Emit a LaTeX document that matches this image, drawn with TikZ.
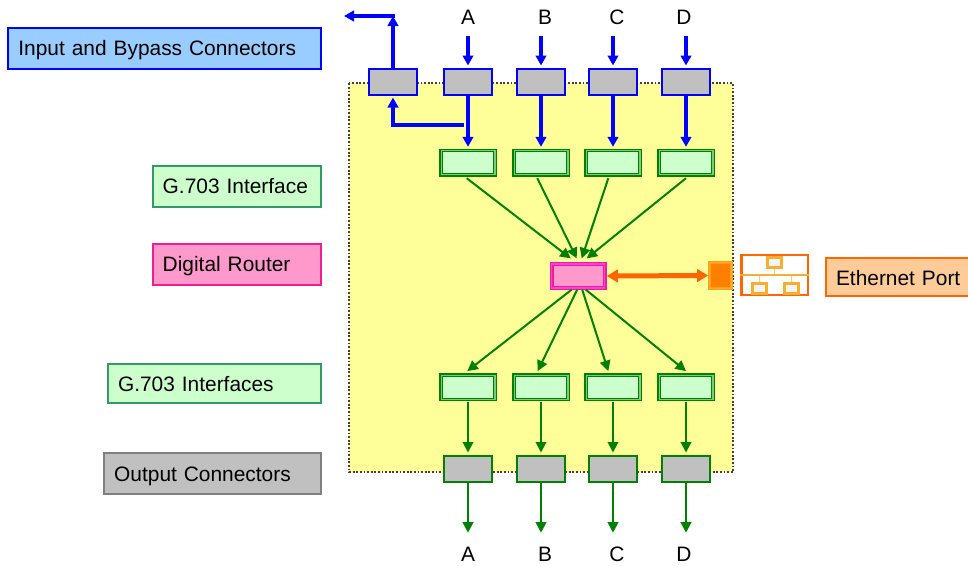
\documentclass[tikz,border=0pt]{standalone}
\usepackage{fontspec}
\setmainfont{Liberation Sans}
\usetikzlibrary{calc}
\usetikzlibrary{arrows.meta}
\definecolor{panelyellow}{HTML}{FFFF99}
\definecolor{connblue}{HTML}{0000FF}
\definecolor{pathgreen}{HTML}{008000}
\definecolor{ethorange}{HTML}{FF6600}
\definecolor{lightgreen}{HTML}{CCFFCC}
\definecolor{seagreen}{HTML}{339966}
\definecolor{routerpink}{HTML}{FF99CC}
\definecolor{skyfill}{HTML}{99CCFF}
\definecolor{greyfill}{HTML}{C0C0C0}
\definecolor{peach}{HTML}{FFCC99}
\definecolor{hubedge}{HTML}{F8AE30}
\tikzset{
  conn/.style={draw,line width=2,fill=greyfill,minimum width=47.4,minimum height=26,inner sep=0},
  gbox/.style={draw=pathgreen,double=lightgreen!60!pathgreen,double distance=1.4,line width=1.2,fill=lightgreen,minimum width=53.6,minimum height=24.2,inner sep=0},
  tag/.style={draw,line width=2,inner xsep=10,inner ysep=0,align=left,text height=16,text depth=2,font=\fontsize{20.9}{24}\selectfont},
  port/.style={font=\fontsize{20.9}{24}\selectfont,inner sep=0},
  bluearrow/.style={connblue,line width=3.4,-{Triangle[length=10,width=10.5]}},
  greenarrow/.style={pathgreen,line width=2,-{Triangle[length=10.5,width=10.5]}},
  hub/.style={draw=hubedge,line width=3,fill=black!4,minimum width=14,minimum height=10,inner sep=0}
}
\begin{document}
\begin{tikzpicture}[x=1pt,y=-1pt]
\useasboundingbox (0,0) rectangle (968,565);

\draw[fill=panelyellow,draw=black!75,line width=1.8,dash pattern=on 1.8 off 1.8] (349.3,83.3) rectangle (733,472.3);

\node[conn,draw=connblue] (bypass) at (393,81.5) {};

\foreach \n/\x/\lx in {A/468/468,B/541/545,C/613/617,D/686/684} {
\node[port] (top\n) at (\lx,17.5) {\n};
\node[conn,draw=connblue] (in\n) at (\x,81.5) {};
\node[gbox] (gin\n) at (\x,162.5) {};
\node[gbox] (gout\n) at (\x,387.3) {};
\node[conn,draw=pathgreen] (out\n) at (\x,468.5) {};
\node[port] (bot\n) at (\lx,554) {\n};
\coordinate (inhead\n) at (\x,36);
\coordinate (outend\n) at (\x,532.7);
\draw[bluearrow] (inhead\n) -- ($(in\n.north)+(0,-2)$);
\draw[bluearrow] (in\n.south) -- ($(gin\n.north)+(0,-3)$);
\draw[greenarrow] ($(gout\n.south)+(0,1.5)$) -- ($(out\n.north)+(0,-2)$);
\draw[greenarrow] (out\n.south) -- (outend\n);
}

\node[draw=magenta!85!pink,double=routerpink!40!magenta,double distance=1.4,line width=1.2,fill=routerpink,minimum width=53,minimum height=24,inner sep=0] (router) at (578.2,276) {};

\foreach \n/\sx/\dx in {A/-1.3/-7.5,B/-3.7/-1.5,C/-4.7/3.5,D/0/8.5}
\draw[greenarrow] ($(gin\n.south)+(\sx,3)$) -- ($(router.north)+(\dx,-5)$);

\foreach \n/\dx/\ex in {A/-6.5/-0.7,B/-1/-3.3,C/4/-4.7,D/7.5/0}
\draw[greenarrow] ($(router.south)+(\dx,1)$) -- ($(gout\n.north)+(\ex,-3.5)$);

\coordinate (upcorner) at (393,16);
\coordinate (upend) at (344,16);
\coordinate (tapin) at (464,125);
\coordinate (tapcorner) at (393,125);
\draw[bluearrow] (bypass.north) -- (upcorner);
\draw[bluearrow,line cap=rect] (upcorner) -- (upend);
\draw[bluearrow] (tapin) -- (tapcorner) -- ($(bypass.south)+(0,2)$);

\node[draw=ethorange!60!yellow,double=orange!70!white,double distance=1,line width=1,fill=orange,minimum width=21.5,minimum height=25.5,inner sep=0] (ethjack) at (720.4,275.5) {};
\node[draw=ethorange,line width=2.2,fill=white,minimum width=66.5,minimum height=39.5,inner sep=0] (ethicon) at (774.7,275) {};
\draw[hubedge!60!white,line width=1] (ethicon.center) -- ++(0,-8);
\node[hub] (hubtop) at (774.5,262.5) {};
\node[hub] (hubleft) at (759,288) {};
\node[hub] (hubright) at (791,288) {};
\draw[hubedge,line width=2] (ethicon.west) -- (ethicon.east);
\foreach \h in {hubleft,hubright}
\draw[hubedge!60!white,line width=1] (\h.north) -- ++(0,-6);
\draw[ethorange,line width=5,{Triangle[length=11,width=12.5]}-{Triangle[length=11,width=12.5]}] ($(router.east)+(1.5,0)$) -- ($(ethjack.west)+(-1,0)$);

\node[tag,draw=connblue,fill=skyfill,minimum width=312.6,minimum height=41,text width=292.6] (labinput) at (164.7,48) {Input and Bypass Connectors};
\node[tag,draw=seagreen,fill=lightgreen,minimum width=168,minimum height=41,text width=148] (labgin) at (236.7,186.8) {G.703 Interface};
\node[tag,draw=magenta!85!pink,fill=routerpink,minimum width=168,minimum height=41,text width=148] (labrouter) at (236.7,264.3) {Digital Router};
\node[tag,draw=seagreen,fill=lightgreen,minimum width=213,minimum height=39,text width=193,text height=17,text depth=0] (labgout) at (214.5,383) {G.703 Interfaces};
\node[tag,draw=gray,fill=greyfill,minimum width=217,minimum height=41,text width=197,text height=17,text depth=1] (laboutput) at (212.7,473) {Output Connectors};
\node[tag,draw=ethorange,fill=peach,minimum width=150,minimum height=38,text width=130,text height=17,text depth=0] (labeth) at (901,276.5) {Ethernet Port};

\end{tikzpicture}
\end{document}
